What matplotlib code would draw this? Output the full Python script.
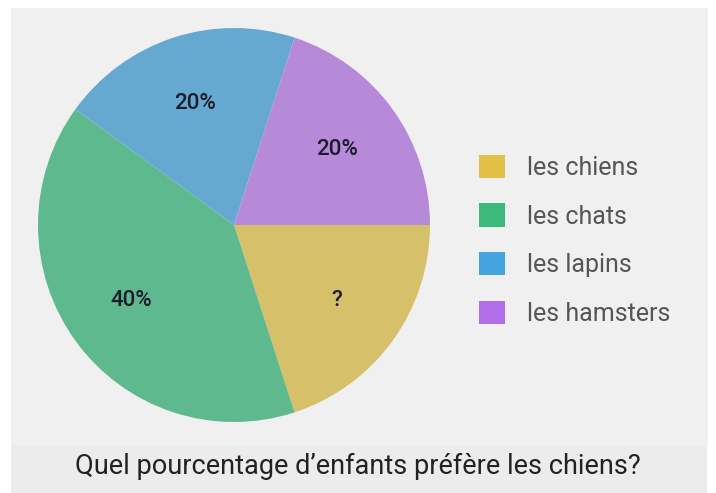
import matplotlib.pyplot as plt
from matplotlib.patches import Patch, Rectangle

# donnees du graphique
animaux = ['les chiens', 'les chats', 'les lapins', 'les hamsters']
pourcentages = [20, 40, 20, 20]
etiquettes = ['?', '40%', '20%', '20%']
couleurs_pie = ['#d6c16a', '#5fb98f', '#66a9d0', '#b68ad9']
couleurs_legende = ['#e2bf46', '#3db97b', '#45a4de', '#b26eea']
titre = 'Quel pourcentage d\u2019enfants préfère les chiens?'

fig = plt.figure(figsize=(7.16, 4.93), dpi=100)
fig.patch.set_facecolor('white')

# fond gris
fig.patches.append(Rectangle((11/716, 0), 696/716, 1 - 8/493, transform=fig.transFigure,
                             facecolor='#ececec', edgecolor='none', zorder=-2))
fig.patches.append(Rectangle((11/716, 48/493), 697/716, 1 - 56/493, transform=fig.transFigure,
                             facecolor='#f0f0f0', edgecolor='none', zorder=-1))

ax = fig.add_axes([38/716, 71/493, 392/716, 394/493])
wedges, textes, pct = ax.pie(pourcentages, colors=couleurs_pie, startangle=0, counterclock=False,
                             autopct='%d%%', pctdistance=0.65,
                             textprops={'fontsize': 16, 'color': '#1c1c2c', 'family': 'Roboto',
                                        'weight': 'medium'})
for t, e in zip(pct, etiquettes):
    t.set_text(e)
ax.set_aspect('auto')
ax.set_xlim(-1, 1)
ax.set_ylim(-1, 1)
ax.axis('off')

poignees = [Patch(facecolor=c, edgecolor='none') for c in couleurs_legende]
leg = fig.legend(poignees, animaux, loc='upper left', bbox_to_anchor=(456/716, 1 - 132/493),
                 frameon=False, handlelength=1.05, handleheight=1.05,
                 handletextpad=0.9, labelspacing=0.95, prop={'family': 'Roboto', 'size': 18})
for t in leg.get_texts():
    t.set_color('#555555')

fig.text(0.5, 1 - 466/493, titre, ha='center', va='center', fontsize=19.5, color='#222222',
         family='Roboto')

plt.savefig('out.png', dpi=100)
